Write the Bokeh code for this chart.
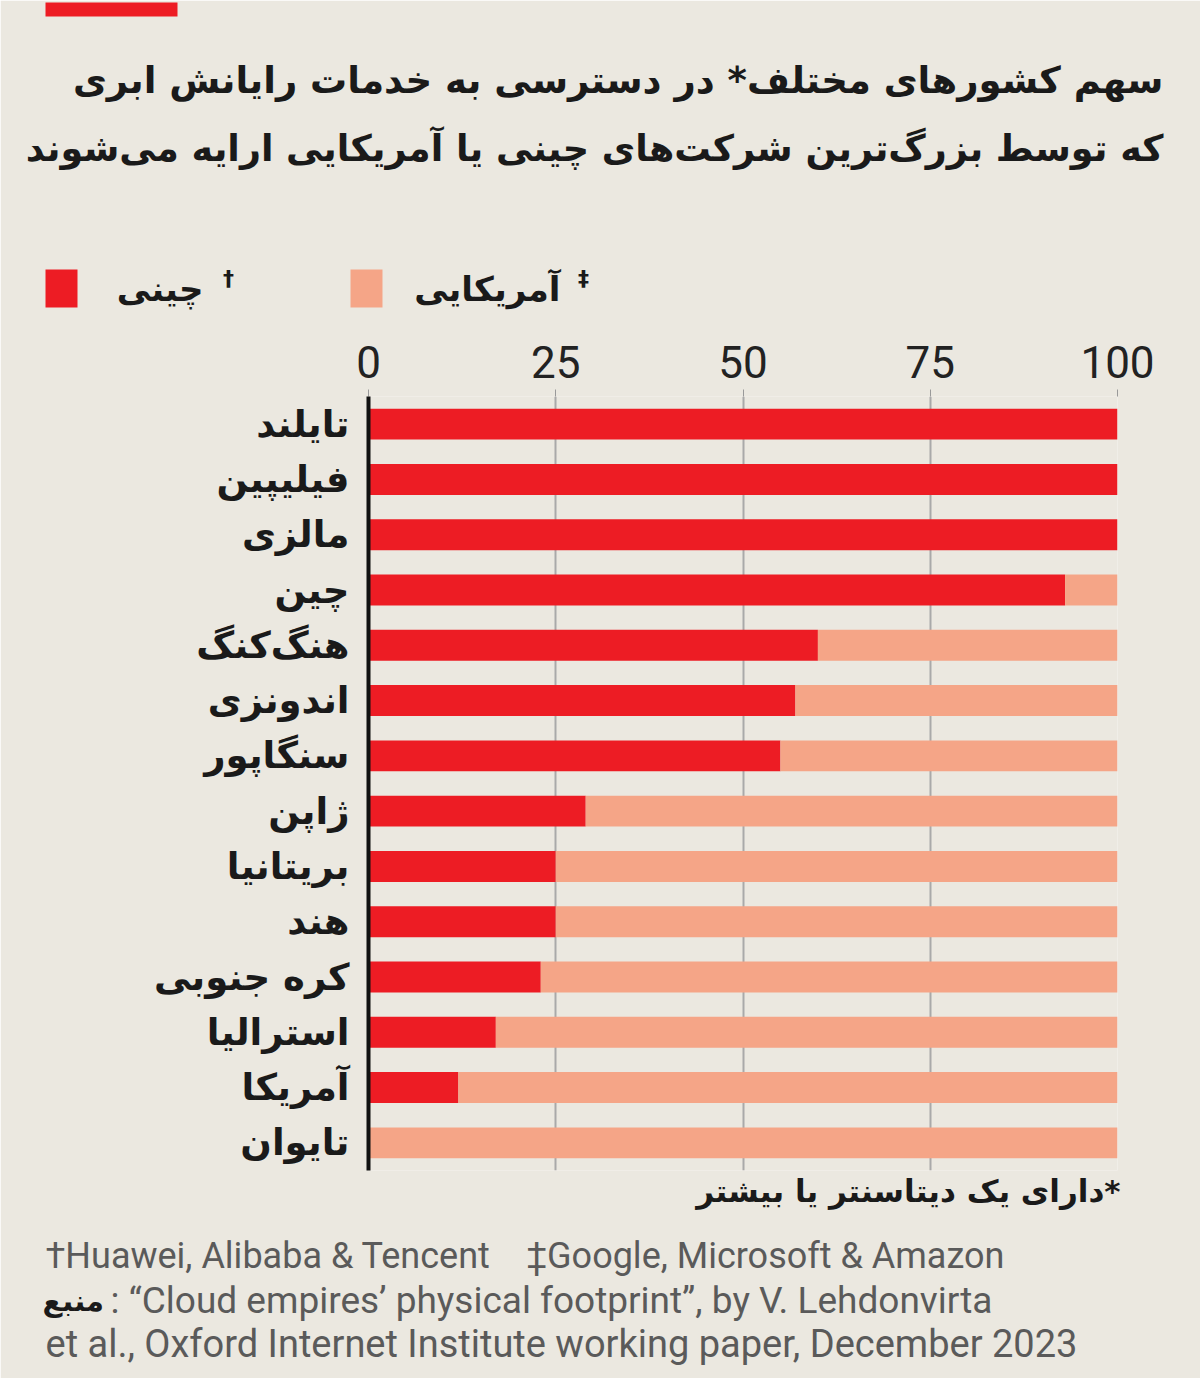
from bokeh.plotting import figure
from bokeh.models import Label, FactorRange, FixedTicker, ColumnDataSource
from bokeh.embed import file_html
from bokeh.resources import INLINE

countries = ["تایلند", "فیلیپین", "مالزی", "چین", "هنگ‌کنگ", "اندونزی", "سنگاپور",
             "ژاپن", "بریتانیا", "هند", "کره جنوبی", "استرالیا", "آمریکا", "تایوان"]
chinese = [100, 100, 100, 93, 60, 57, 55, 29, 25, 25, 23, 17, 12, 0]
american = [0, 0, 0, 7, 40, 43, 45, 71, 75, 75, 77, 83, 88, 100]
x_ticks = [0, 25, 50, 75, 100]

title_lines = ["سهم کشورهای مختلف* در دسترسی به خدمات رایانش ابری",
               "که توسط بزرگ‌ترین شرکت‌های چینی یا آمریکایی ارایه می‌شوند"]
legend_labels = ["چینی", "آمریکایی"]
legend_marks = ["†", "‡"]
note_text = "دارای یک دیتاسنتر یا بیشتر*"
foot1 = "†Huawei, Alibaba & Tencent\u2003‡Google, Microsoft & Amazon"
source_word = "منبع"
foot2 = ": “Cloud empires’ physical footprint”, by V. Lehdonvirta"
foot3 = "et al., Oxford Internet Institute working paper, December 2023"

BG = "#ebe8e0"
RED = "#ed1c24"
SALMON = "#f5a587"
GRAY = "#5a5a5a"
W, H = 1200, 1378
FL, FR, FT, FB = 368, 1117, 396, 1170

src = ColumnDataSource(dict(country=countries, chinese=chinese, american=american))

p = figure(width=W, height=H, output_backend="svg", toolbar_location=None,
           y_range=FactorRange(factors=list(reversed(countries))),
           x_range=(0, 100), x_axis_location="above",
           min_border_left=FL, min_border_right=W - FR,
           min_border_top=FT, min_border_bottom=H - FB)
p.background_fill_color = BG
p.border_fill_color = BG
p.outline_line_color = None
p.y_range.range_padding = 0

p.hbar_stack(["chinese", "american"], y="country", height=0.56,
             color=[RED, SALMON], line_width=0, source=src)

xa = p.xaxis[0]
xa.ticker = FixedTicker(ticks=x_ticks)
xa.axis_line_color = None
xa.major_tick_in = 0
xa.major_tick_out = 7
xa.major_tick_line_color = "#999999"
xa.minor_tick_line_color = None
xa.major_label_text_font = "Roboto"
xa.major_label_text_font_size = "44px"
xa.major_label_text_color = "#222222"
xa.major_label_standoff = 12

ya = p.yaxis[0]
ya.axis_line_color = "#111111"
ya.axis_line_width = 4
ya.major_tick_line_color = None
ya.minor_tick_line_color = None
ya.major_label_text_font = "DejaVu Sans"
ya.major_label_text_font_style = "bold"
ya.major_label_text_font_size = "37px"
ya.major_label_text_color = "#1a1a1a"
ya.major_label_standoff = 13

p.xgrid.grid_line_color = "#a9a9a9"
p.xgrid.grid_line_width = 2
p.ygrid.grid_line_color = None


def label(side, text, cx, cy, size, color="#1a1a1a", align="left", font="DejaVu Sans",
          style="bold", bg=None):
    kw = {}
    if bg is not None:
        kw = dict(background_fill_color=bg, background_fill_alpha=1)
    p.add_layout(Label(x=cx, y=cy, x_units="canvas", y_units="canvas", text=text,
                       text_font=font, text_font_style=style, text_font_size=f"{size}px",
                       text_color=color, text_align=align, text_baseline="middle", **kw), side)


EM = "\u2003"
# top red bar
label("above", EM * 11, 45, 9, 12, color=RED, bg=RED)
# title
label("above", title_lines[0], 1163, 80, 37, align="right")
label("above", title_lines[1], 1163, 148, 36.5, align="right")
# legend
label("above", EM, 45, 288, 32, color=RED, bg=RED)
label("above", legend_labels[0], 203, 288, 34, align="right")
label("above", legend_marks[0], 228, 278, 22, align="center")
label("above", EM, 350, 288, 32, color=SALMON, bg=SALMON)
label("above", legend_labels[1], 560, 288, 34, align="right")
label("above", legend_marks[1], 583, 278, 22, align="center")

# note + footer
label("below", note_text, 1120, 1190, 31, align="right")
label("below", foot1, 45, 1255, 36, color=GRAY, font="Roboto", style="normal")
label("below", source_word, 42, 1300, 29, align="left")
label("below", foot2, 110, 1300, 37, color=GRAY, font="Roboto", style="normal")
label("below", foot3, 45, 1343, 38, color=GRAY, font="Roboto", style="normal")

open("out.html", "w").write(file_html(p, INLINE))
